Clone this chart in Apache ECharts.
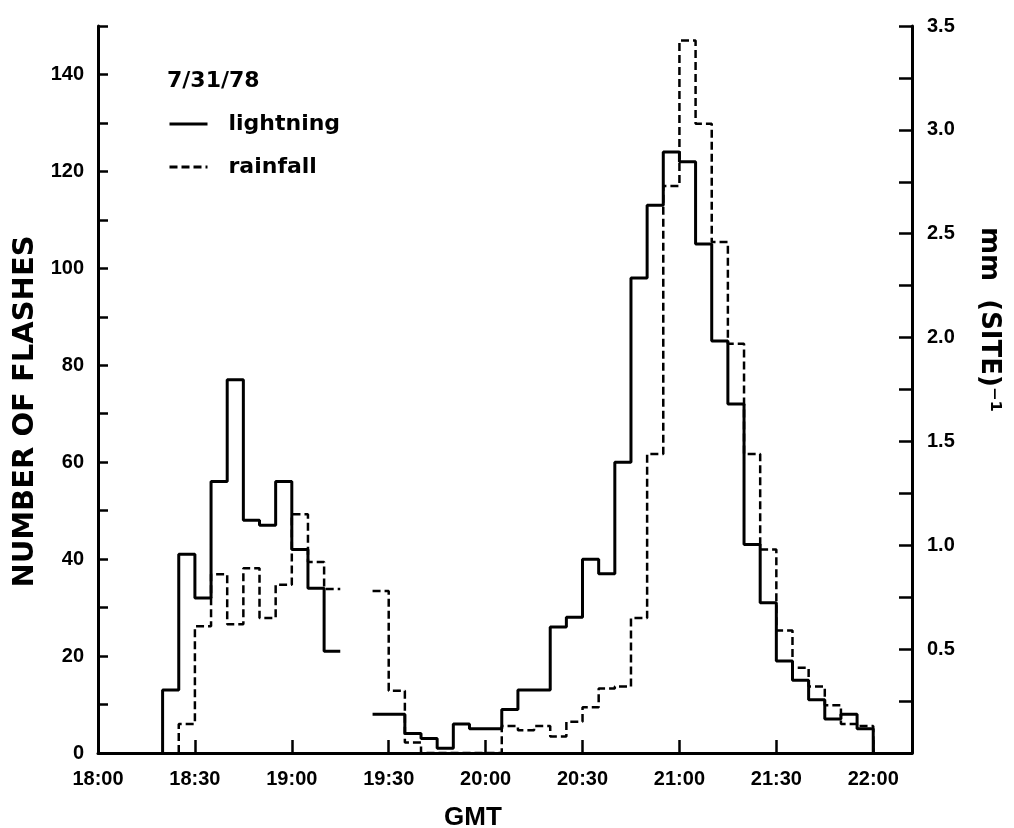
<!DOCTYPE html>
<html>
<head>
<meta charset="utf-8">
<script src="https://cdn.jsdelivr.net/npm/echarts@6/dist/echarts.min.js"></script>
<style>
html,body{margin:0;padding:0;background:#fff;}
#chart{width:1014px;height:828px;}
</style>
</head>
<body>
<div id="chart"></div>
<script>
// Bin start times, minutes after 18:00 GMT (5-minute bins)
const binStartMin = [20,25,30,35,40,45,50,55,60,65,70,75,80,85,90,95,100,105,110,115,120,125,130,135,140,145,150,155,160,165,170,175,180,185,190,195,200,205,210,215,220,225,230,235];
const binWidthMin = 5;
// Number of lightning flashes per bin (left axis)
const lightning = [13,41,32,56,77,48,47,56,42,34,21,null,null,8,8,4,3,1,6,5,5,9,13,13,26,28,40,37,60,98,113,124,122,105,85,72,43,31,19,15,11,7,8,5];
// Rainfall, mm (site)^-1 per bin (right axis)
const rainfall = [null,0.14,0.61,0.86,0.62,0.89,0.65,0.81,1.15,0.92,0.79,null,null,0.78,0.30,0.05,0,0,0,0,0,0.13,0.11,0.13,0.08,0.15,0.22,0.31,0.32,0.65,1.44,2.73,3.43,3.03,2.46,1.97,1.44,0.98,0.59,0.41,0.32,0.23,0.14,0.13];
// Axis tick labels
const xTickLabels = ['18:00','18:30','19:00','19:30','20:00','20:30','21:00','21:30','22:00'];
const leftTickLabels = ['0','20','40','60','80','100','120','140'];
const rightTickLabels = ['0.5','1.0','1.5','2.0','2.5','3.0','3.5'];

function histogramPoints(values) {
  const pts = [];
  let first = -1, last = -1;
  values.forEach((v, i) => { if (v != null) { if (first < 0) first = i; last = i; } });
  for (let i = 0; i < values.length; i++) {
    const v = values[i];
    const t = binStartMin[i];
    if (v == null) {
      if (i > 0 && values[i - 1] != null) pts.push([t, values[i - 1]]);
      pts.push([t, null]);
      continue;
    }
    if (i === first) pts.push([t, 0]);
    pts.push([t, v]);
    if (i === last) {
      pts.push([t + binWidthMin, v]);
      pts.push([t + binWidthMin, 0]);
    }
  }
  return pts;
}

const tickFont = {fontFamily: 'Liberation Sans, Arial, sans-serif', fontWeight: 'bold', fontSize: 20, color: '#000'};
const chart = echarts.init(document.getElementById('chart'), null, {renderer: 'canvas'});
chart.setOption({
  backgroundColor: '#fff',
  animation: false,
  title: {
    text: '7/31/78',
    left: 162, top: 65,
    textStyle: {fontFamily: 'DejaVu Sans, sans-serif', fontWeight: 'bold', fontSize: 22, color: '#000'}
  },
  legend: {
    orient: 'vertical',
    left: 163, top: 106,
    itemWidth: 38, itemHeight: 14, itemGap: 17,
    itemStyle: {opacity: 0},
    lineStyle: {width: 3},
    textStyle: {fontFamily: 'DejaVu Sans, sans-serif', fontWeight: 'bold', fontSize: 22, color: '#000', lineHeight: 26, padding: [0,0,0,16]},
    data: ['lightning', 'rainfall']
  },
  grid: {left: 98, right: 102, top: 26, bottom: 75, outerBoundsMode: 'none', containLabel: false},
  xAxis: {
    type: 'value', min: 0, max: 252, interval: 30,
    name: 'GMT', nameLocation: 'middle', nameGap: 52,
    nameTextStyle: {fontFamily: 'Liberation Sans, Arial, sans-serif', fontWeight: 'bold', fontSize: 26, color: '#000', padding: [0, 64, 0, 0]},
    axisLine: {lineStyle: {color: '#000', width: 3}},
    axisTick: {inside: true, length: 13, lineStyle: {color: '#000', width: 2.5}},
    axisLabel: Object.assign({margin: 16, showMaxLabel: false, formatter: v => (v % 30 === 0 && v / 30 < xTickLabels.length) ? xTickLabels[v / 30] : ''}, tickFont),
    splitLine: {show: false}
  },
  yAxis: [
    {
      type: 'value', min: 0, max: 150, interval: 10,
      name: 'NUMBER OF FLASHES', nameLocation: 'middle', nameRotate: 90, nameGap: 58,
      nameTextStyle: {fontFamily: 'DejaVu Sans, sans-serif', fontWeight: 'bold', fontSize: 29, color: '#000', padding: [0, 44, 0, 0]},
      axisLine: {show: true, lineStyle: {color: '#000', width: 3}},
      axisTick: {inside: true, length: 10, lineStyle: {color: '#000', width: 2.5}},
      axisLabel: Object.assign({margin: 14, formatter: v => (v % 20 === 0 && v / 20 < leftTickLabels.length) ? leftTickLabels[v / 20] : ''}, tickFont),
      splitLine: {show: false}
    },
    {
      type: 'value', min: 0, max: 3.5, interval: 0.25, position: 'right',
      name: 'mm  (SITE)⁻¹', nameLocation: 'middle', nameRotate: -90, nameGap: 64,
      nameTextStyle: {fontFamily: 'DejaVu Sans, sans-serif', fontWeight: 'bold', fontSize: 26, color: '#000', padding: [0, 140, 0, 0]},
      axisLine: {show: true, lineStyle: {color: '#000', width: 3}},
      axisTick: {inside: true, length: 13, lineStyle: {color: '#000', width: 2.5}},
      axisLabel: Object.assign({margin: 15, formatter: v => {
        const k = Math.round(v * 2);
        return (Math.abs(v * 2 - k) < 1e-6 && k >= 1 && k <= rightTickLabels.length) ? rightTickLabels[k - 1] : '';
      }}, tickFont),
      splitLine: {show: false}
    }
  ],
  series: [
    {
      name: 'rainfall', type: 'line', yAxisIndex: 1, step: 'end',
      showSymbol: false, symbol: 'none', connectNulls: false,
      lineStyle: {color: '#000', width: 2.5, type: [8, 4]},
      itemStyle: {color: '#000'},
      data: histogramPoints(rainfall), z: 2
    },
    {
      name: 'lightning', type: 'line', yAxisIndex: 0, step: 'end',
      showSymbol: false, symbol: 'none', connectNulls: false,
      lineStyle: {color: '#000', width: 3, type: 'solid'},
      itemStyle: {color: '#000'},
      data: histogramPoints(lightning), z: 3
    }
  ]
});
</script>
</body>
</html>
